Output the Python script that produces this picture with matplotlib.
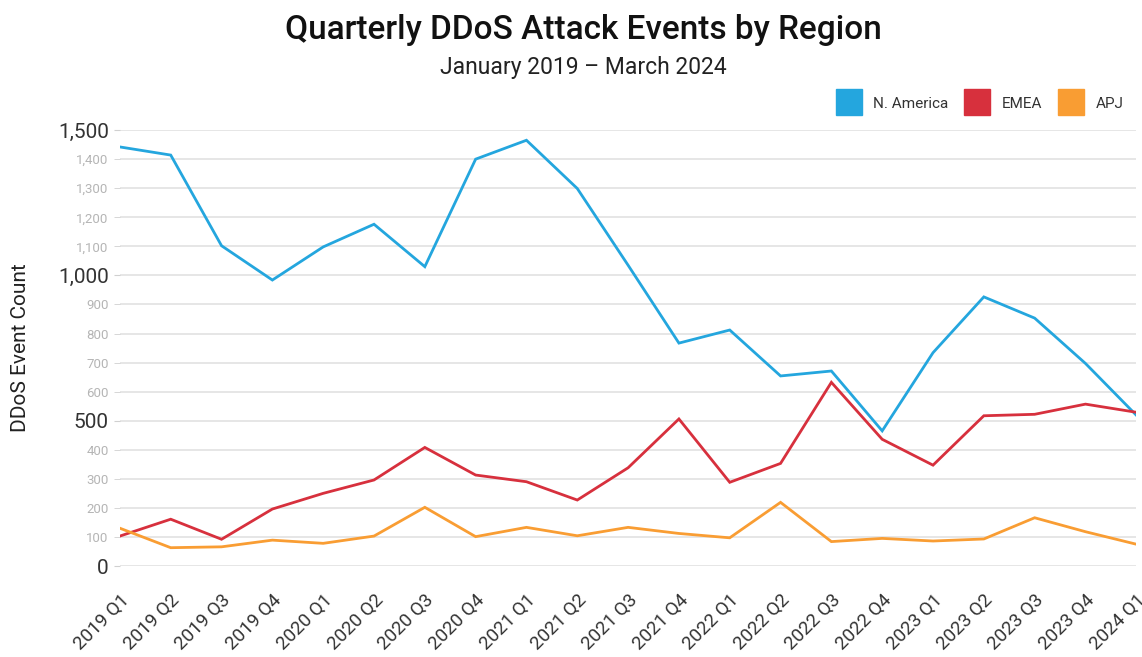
import matplotlib.pyplot as plt
import numpy as np
from matplotlib.ticker import FixedLocator, FuncFormatter
from matplotlib.lines import Line2D

plt.rcParams['font.family'] = ['Roboto', 'DejaVu Sans']

quarters = ['2019 Q1', '2019 Q2', '2019 Q3', '2019 Q4',
            '2020 Q1', '2020 Q2', '2020 Q3', '2020 Q4',
            '2021 Q1', '2021 Q2', '2021 Q3', '2021 Q4',
            '2022 Q1', '2022 Q2', '2022 Q3', '2022 Q4',
            '2023 Q1', '2023 Q2', '2023 Q3', '2023 Q4',
            '2024 Q1']
n_america = [1442, 1414, 1102, 984, 1098, 1176, 1030, 1400, 1465, 1299,
             1035, 767, 812, 654, 671, 465, 734, 926, 853, 697, 519]
emea = [103, 161, 92, 196, 250, 296, 408, 313, 290, 227,
        338, 506, 288, 353, 632, 436, 347, 517, 522, 557, 529]
apj = [130, 63, 66, 89, 78, 103, 202, 101, 133, 104,
       133, 112, 97, 219, 84, 95, 86, 93, 166, 118, 75]

series = [('N. America', n_america, '#24a6de'),
          ('EMEA', emea, '#d7303d'),
          ('APJ', apj, '#f99d33')]

fig = plt.figure(figsize=(11.42, 6.57), dpi=100)
ax = fig.add_axes([0.105, 0.1385, 0.890, 0.6635])

x = np.arange(len(quarters))
for name, vals, col in series:
    ax.plot(x, vals, color=col, lw=2.0, solid_joinstyle='miter')

ax.set_xlim(0, len(quarters) - 1)
ax.set_ylim(0, 1500)

# big labels every 500, faint ones for the hundreds in between
ax.yaxis.set_major_locator(FixedLocator([0, 500, 1000, 1500]))
ax.yaxis.set_minor_locator(FixedLocator([v for v in range(100, 1500, 100) if v % 500]))
fmt = FuncFormatter(lambda v, p: f'{int(v):,}')
ax.yaxis.set_major_formatter(fmt)
ax.yaxis.set_minor_formatter(fmt)
ax.tick_params(axis='y', which='major', labelsize=15, labelcolor='#333333',
               length=4, color='#d0d0d0', pad=4)
ax.tick_params(axis='y', which='minor', labelsize=9.5, labelcolor='#b5b5b5',
               length=4, color='#d0d0d0', pad=4)
ax.grid(axis='y', which='both', color='#e2e2e2', lw=1.2)
ax.set_axisbelow(True)

ax.set_xticks(x)
ax.set_xticklabels(quarters, rotation=45, ha='right', rotation_mode='anchor',
                   fontsize=13.5, color='#333333')
ax.tick_params(axis='x', length=0, pad=18)

for s in ax.spines.values():
    s.set_visible(False)

ax.set_ylabel('DDoS Event Count', fontsize=15, color='#222222', labelpad=20)

fig.text(0.511, 0.955, 'Quarterly DDoS Attack Events by Region',
         ha='center', va='center', fontsize=24, fontweight='medium', color='#111111')
fig.text(0.511, 0.898, 'January 2019 \u2013 March 2024',
         ha='center', va='center', fontsize=16.5, color='#222222')

handles = [Line2D([], [], marker='s', ls='none', markersize=19,
                  markerfacecolor=col, markeredgecolor=col, label=name)
           for name, vals, col in series]
fig.legend(handles=handles, loc='center right', bbox_to_anchor=(0.996, 0.842),
           ncol=3, frameon=False, fontsize=11, handletextpad=0.6,
           columnspacing=0.9, labelcolor='#333333')

fig.savefig('out.png', dpi=100, facecolor='white')
